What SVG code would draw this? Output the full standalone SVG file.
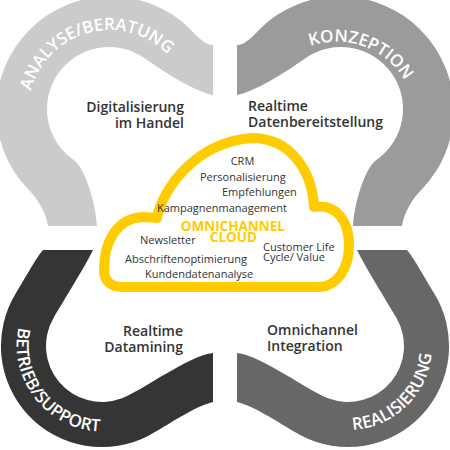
<svg xmlns="http://www.w3.org/2000/svg" xmlns:xlink="http://www.w3.org/1999/xlink" width="450" height="450" viewBox="0 0 450 450">
<style>
.band-label{font-family:"Open Sans","Liberation Sans",sans-serif;font-size:17px;font-weight:600;fill:#ffffff;}
.label{font-family:"Open Sans","Liberation Sans",sans-serif;font-size:14px;font-weight:600;fill:#333333;}
.item{font-family:"Open Sans","Liberation Sans",sans-serif;font-size:11px;fill:#333333;}
.cloud-title{font-family:"Open Sans","Liberation Sans",sans-serif;font-size:13.5px;font-weight:700;fill:#ffcc00;}
.cloud{fill:none;stroke:#ffcc00;stroke-width:10;stroke-linejoin:round;}
</style>
<defs>
<path id="shapeTop" d="M48,226 C46,212 36.9,198.1 28.4,189.6 A114,114 0 0 1 189.6,28.4 C198,37 205,45 213,45 L213,95 C196,92 165,72.6 144.6,58.2 A62,62 0 0 0 73.4,159.8 C85.7,168.4 96,205 97,226 Z"/>
<path id="shapeBottom" d="M43,250 C36,258 24.3,279.8 16.3,292.5 A101,101 0 0 0 149.4,435.2 C167,425.8 195,406 213,402 L213,353 C190,355 140,391.8 121.2,398.6 A56,56 0 0 1 53.5,318 C62.5,302.4 86,265 93,250 Z"/>
<path id="arcTL" d="M30.8,130 A81,81 0 0 1 187.2,88"/>
<path id="arcTR" d="M267.7,82.3 A79,79 0 0 1 414.3,135.7"/>
<path id="arcBR" d="M287.6,404.4 A84,84 0 0 0 408.4,287.6"/>
<path id="arcBL" d="M49.1,278.2 A86,86 0 0 0 154.9,413.8"/>
</defs>
<rect width="450" height="450" fill="#ffffff"/>
<g id="analyse-beratung">
<use xlink:href="#shapeTop" href="#shapeTop" fill="#cbcbcb"/>
<text class="band-label"><textPath xlink:href="#arcTL" href="#arcTL" startOffset="50%" text-anchor="middle">ANALYSE/BERATUNG</textPath></text>
<text class="label" text-anchor="end"><tspan x="184" y="112">Digitalisierung</tspan><tspan x="184" y="127.5">im Handel</tspan></text>
</g>
<g id="konzeption">
<use xlink:href="#shapeTop" href="#shapeTop" fill="#9b9b9b" transform="translate(450,0) scale(-1,1)"/>
<text class="band-label"><textPath xlink:href="#arcTR" href="#arcTR" startOffset="50%" text-anchor="middle">KONZEPTION</textPath></text>
<text class="label"><tspan x="248" y="111">Realtime</tspan><tspan x="248" y="127">Datenbereitstellung</tspan></text>
</g>
<g id="realisierung">
<use xlink:href="#shapeBottom" href="#shapeBottom" fill="#676767" transform="translate(450,0) scale(-1,1)"/>
<text class="band-label"><textPath xlink:href="#arcBR" href="#arcBR" startOffset="50%" text-anchor="middle">REALISIERUNG</textPath></text>
<text class="label"><tspan x="267" y="335">Omnichannel</tspan><tspan x="267" y="350.5">Integration</tspan></text>
</g>
<g id="betrieb-support">
<use xlink:href="#shapeBottom" href="#shapeBottom" fill="#353535"/>
<text class="band-label"><textPath xlink:href="#arcBL" href="#arcBL" startOffset="50%" text-anchor="middle">BETRIEB/SUPPORT</textPath></text>
<text class="label" text-anchor="end"><tspan x="183" y="336">Realtime</tspan><tspan x="183" y="351.5">Datamining</tspan></text>
</g>
<g id="omnichannel-cloud">
<path class="cloud" d="M104,270 C104,240 118,218 143,217 C150,217 154,218 157,218 C162,190 195,142 252,138 C290,138 312,170 314,207 C337,203 349,222 349,245 C349,270 336,287 318,287 L122,287 C110,287 104,280 104,270 Z"/>
<text class="item" text-anchor="middle" x="242.5" y="165">CRM</text>
<text class="item" x="200" y="181">Personalisierung</text>
<text class="item" x="222" y="196">Empfehlungen</text>
<text class="item" x="157" y="212">Kampagnenmanagement</text>
<text class="cloud-title" text-anchor="end"><tspan x="285" y="230.5">OMNICHANNEL</tspan><tspan x="257" y="242">CLOUD</tspan></text>
<text class="item" x="140" y="244">Newsletter</text>
<text class="item"><tspan x="263" y="250.5">Customer Life</tspan><tspan x="263" y="261">Cycle/ Value</tspan></text>
<text class="item" x="125" y="263">Abschriftenoptimierung</text>
<text class="item" x="145" y="278">Kundendatenanalyse</text>
</g>
</svg>
